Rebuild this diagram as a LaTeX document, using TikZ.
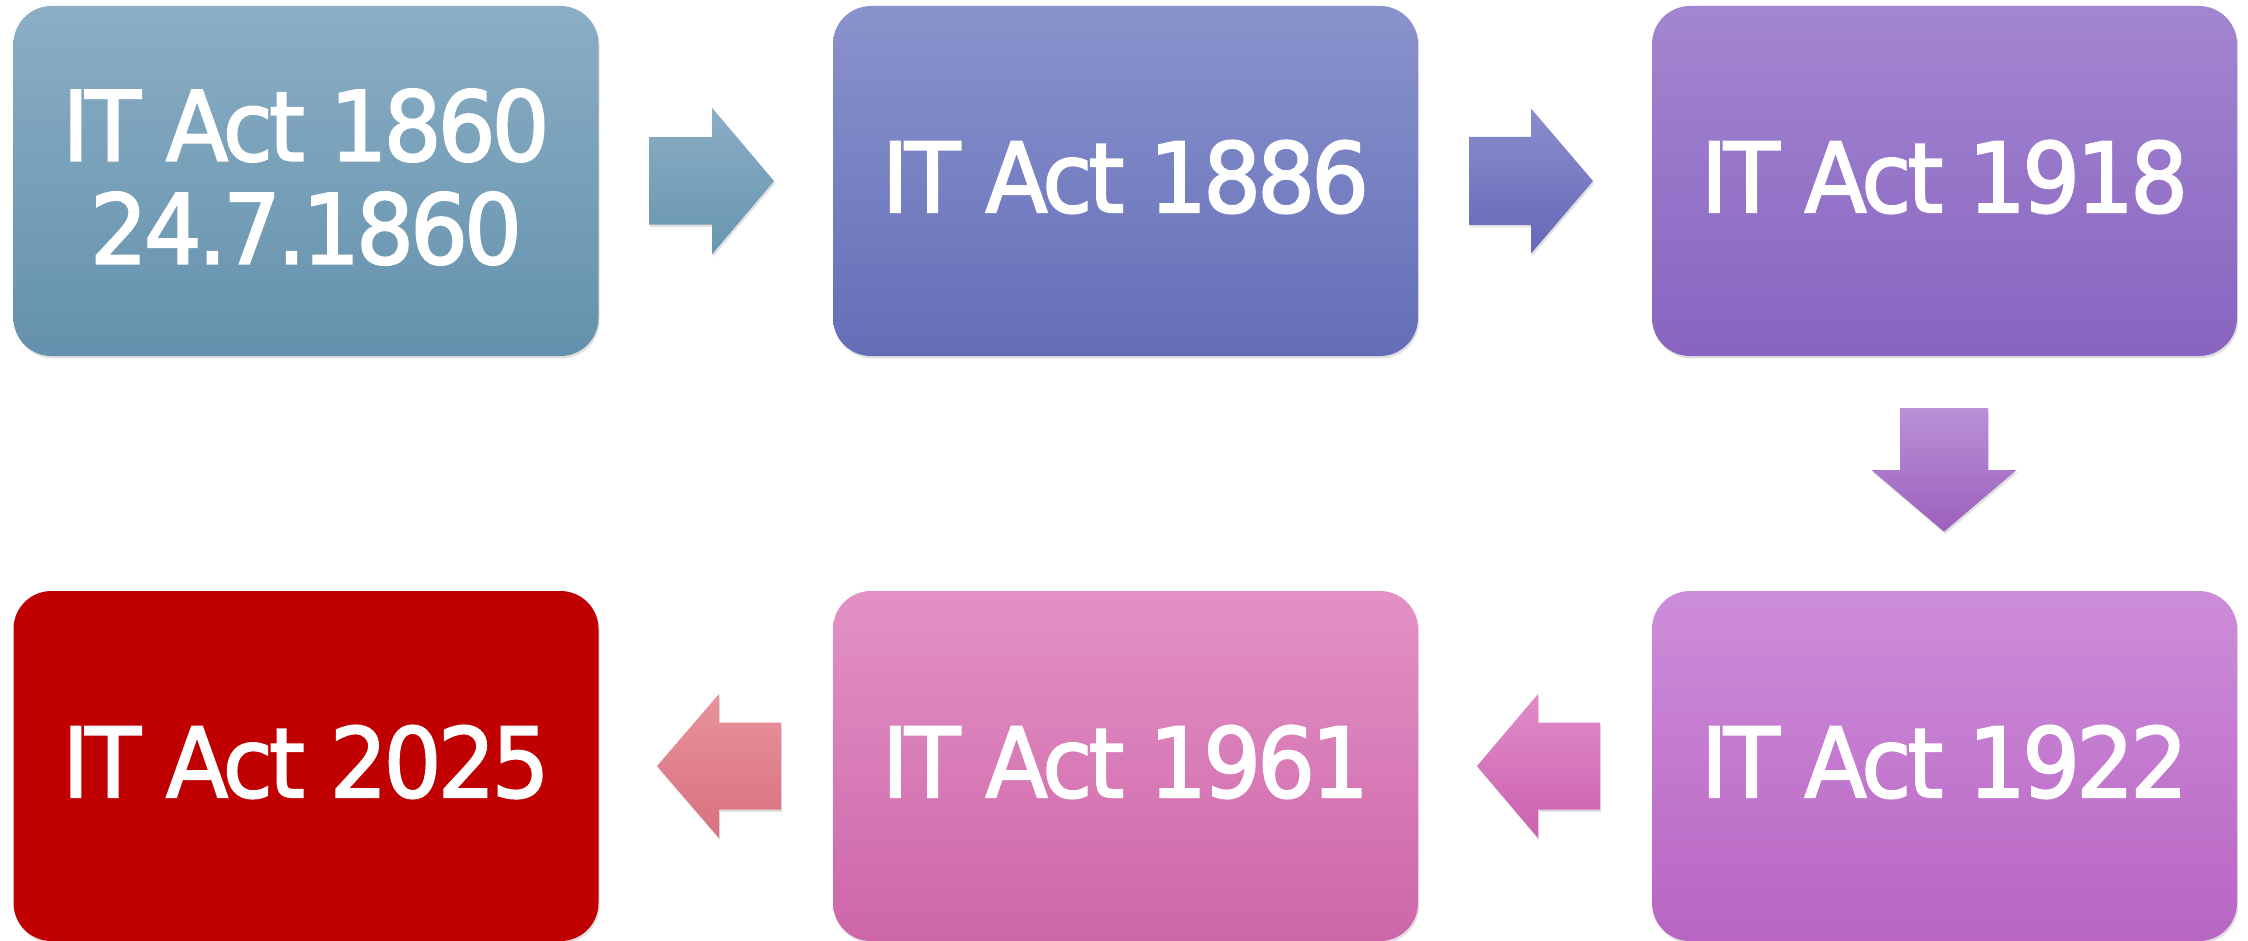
\documentclass[tikz,border=0pt]{standalone}
\usepackage{fontspec}
\newfontfamily\actfont[FakeStretch=0.94,LetterSpace=-4,FakeBold=2]{DejaVu Sans}
\usetikzlibrary{shadows}
\definecolor{bAt}{HTML}{8BAEC5}\definecolor{bAb}{HTML}{6491AD}
\definecolor{bBt}{HTML}{8A93CD}\definecolor{bBb}{HTML}{646EB7}
\definecolor{bCt}{HTML}{A386D1}\definecolor{bCb}{HTML}{8864C0}
\definecolor{bDt}{HTML}{CD8DD9}\definecolor{bDb}{HTML}{B865C3}
\definecolor{bEt}{HTML}{E391C5}\definecolor{bEb}{HTML}{CD66A9}
\definecolor{bF}{HTML}{C00000}
\definecolor{aAt}{HTML}{8AAEC4}\definecolor{aAb}{HTML}{6895B0}
\definecolor{aBt}{HTML}{8A8ECC}\definecolor{aBb}{HTML}{6468B8}
\definecolor{aCt}{HTML}{BA90D6}\definecolor{aCb}{HTML}{9C60BE}
\definecolor{aDt}{HTML}{E08CC8}\definecolor{aDb}{HTML}{CC60B0}
\definecolor{aEt}{HTML}{E8939C}\definecolor{aEb}{HTML}{D9707F}
\begin{document}
\begin{tikzpicture}[x=0.5pt,y=-0.5pt,
  softshadow/.style={drop shadow={shadow xshift=0.6pt,shadow yshift=-1.2pt,opacity=0.12,fill=black}},
  actbox/.style={rectangle,rounded corners=19pt,minimum width=292.5pt,minimum height=175pt,inner sep=0pt,draw=none,softshadow},
  acttext/.style={inner sep=0pt,text=white,align=center,font=\actfont\fontsize{48.4pt}{51.5pt}\selectfont},
  blockarrow/.style={draw=none,softshadow}]
\useasboundingbox (0,0) rectangle (2248,941);
% boxes
\node[actbox,top color=bAt,bottom color=bAb] (b1860) at (306,181) {};
\node[actbox,top color=bBt,bottom color=bBb] (b1886) at (1125.5,181) {};
\node[actbox,top color=bCt,bottom color=bCb] (b1918) at (1944.5,181) {};
\node[actbox,top color=bDt,bottom color=bDb] (b1922) at (1944.5,766) {};
\node[actbox,top color=bEt,bottom color=bEb] (b1961) at (1125.5,766) {};
\node[actbox,fill=bF] (b2025) at (306,766) {};
% texts
\node[acttext] (t1860) at (306,177) {IT Act 1860\\24.7.1860};
\node[acttext] (t1886) at (1125.5,177) {IT Act 1886};
\node[acttext] (t1918) at (1944.5,177) {IT Act 1918};
\node[acttext] (t1922) at (1944.5,762) {IT Act 1922};
\node[acttext] (t1961) at (1125.5,762) {IT Act 1961};
\node[acttext] (t2025) at (306,762) {IT Act 2025};
% arrow anchor points
\coordinate (m1) at (711.5,181);
\coordinate (m2) at (1531,181);
\coordinate (m3) at (1944,470);
\coordinate (m4) at (1538,766);
\coordinate (m5) at (719,766);
% right arrows
\path[blockarrow,top color=aAt,bottom color=aAb] (m1) ++(-62.5,-43.75) -- ++(63,0) -- ++(0,-29.5) -- ++(62,73.25) -- ++(-62,73.25) -- ++(0,-29.5) -- ++(-63,0) -- cycle;
\path[blockarrow,top color=aBt,bottom color=aBb] (m2) ++(-62,-44) -- ++(62,0) -- ++(0,-28.5) -- ++(62,72.5) -- ++(-62,72.5) -- ++(0,-28.5) -- ++(-62,0) -- cycle;
% down arrow
\path[blockarrow,top color=aCt,bottom color=aCb] (m3) ++(-44,-62) -- ++(88,0) -- ++(0,62) -- ++(28.5,0) -- ++(-72.5,61.6) -- ++(-72.5,-61.6) -- ++(28.5,0) -- cycle;
% left arrows
\path[blockarrow,top color=aDt,bottom color=aDb] (m4) ++(62,-43.5) -- ++(-62,0) -- ++(0,-28.5) -- ++(-61,72) -- ++(61,72) -- ++(0,-28.5) -- ++(62,0) -- cycle;
\path[blockarrow,top color=aEt,bottom color=aEb] (m5) ++(62,-43.5) -- ++(-62,0) -- ++(0,-28.5) -- ++(-62,72) -- ++(62,72) -- ++(0,-28.5) -- ++(62,0) -- cycle;
\end{tikzpicture}
\end{document}
